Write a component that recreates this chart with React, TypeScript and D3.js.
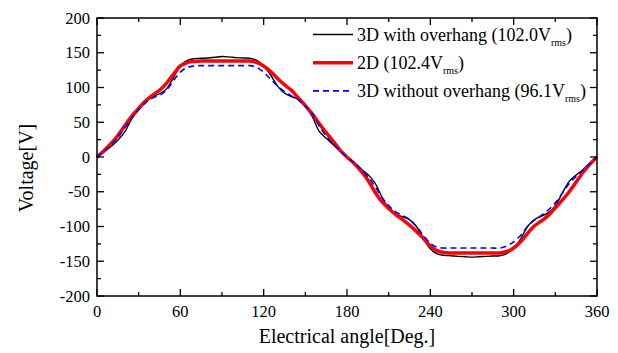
import React from "react";
import * as d3 from "d3";

const angles: number[] = d3.range(0, 361, 5);

const withOverhang: number[] = [
  0, 7, 15, 24, 36, 55, 68, 80, 87, 91, 98, 114, 131, 139, 141.5, 142, 142.5, 143.5, 144.5,
  144, 143, 142.5, 142, 139, 131, 118, 102, 92, 87, 83, 73, 58, 37, 27, 18, 8, 0,
  -8, -17, -25, -37, -57, -74, -82, -86, -90, -100, -118, -132, -139.5, -141.5, -142, -143, -143.5, -144,
  -143.5, -143, -142.5, -142, -139, -131, -118, -100, -90, -85, -80, -70, -52, -35, -26, -18, -9, 0,
];

const twoD: number[] = [
  0, 9, 19, 31, 45, 59, 70, 81, 89, 96, 106, 119, 131, 136, 137.5, 138, 138, 138, 138,
  138, 138, 138, 138, 136, 131, 123, 113, 104, 96, 85, 74, 62, 48, 35, 23, 10, 0,
  -9, -20, -33, -50, -64, -74, -83, -90, -98, -107, -117, -128, -135, -137.5, -138, -138, -138, -138,
  -138, -138, -138, -138, -136, -131, -122, -110, -99, -92, -84, -73, -62, -50, -36, -22, -10, 0,
];

const withoutOverhang: number[] = [
  0, 8, 17, 28, 42, 56, 68, 78, 85, 89, 96, 110, 122, 129, 131, 131.5, 131.5, 131.5, 131.5,
  131.5, 131.5, 131.5, 131.5, 129, 122, 112, 102, 94, 88, 82, 73, 62, 45, 30, 19, 9, 0,
  -8, -17, -28, -42, -58, -70, -79, -84, -90, -100, -113, -124, -130, -131, -131, -131, -131, -131,
  -131, -131, -131, -131, -128, -122, -113, -100, -91, -84, -76, -66, -52, -38, -28, -19, -9, 0,
];

const xTicks: number[] = [0, 60, 120, 180, 240, 300, 360];
const xMinor: number[] = [30, 90, 150, 210, 270, 330];
const yTicks: number[] = [-200, -150, -100, -50, 0, 50, 100, 150, 200];
const yMinor: number[] = [-175, -125, -75, -25, 25, 75, 125, 175];

const legendItems = [
  { name: "3D with overhang (102.0V", sub: "rms", tail: ")", color: "#000", width: 1.4, dash: "" },
  { name: "2D (102.4V", sub: "rms", tail: ")", color: "#ff0000", width: 3.5, dash: "" },
  { name: "3D without overhang (96.1V", sub: "rms", tail: ")", color: "#0000ff", width: 1.6, dash: "6,4" },
];

const W = 618;
const H = 353;
const L = 97, R = 597, T = 18, B = 296;
const FONT = "Liberation Serif";

export default function App() {
  const x = d3.scaleLinear().domain([0, 360]).range([L, R]);
  const y = d3.scaleLinear().domain([-200, 200]).range([B, T]);
  const line = d3
    .line<number>()
    .x((_, i) => x(angles[i]))
    .y((d) => y(d))
    .curve(d3.curveCatmullRom.alpha(0.5));

  const series = [
    { data: withOverhang, ...legendItems[0] },
    { data: twoD, ...legendItems[1] },
    { data: withoutOverhang, ...legendItems[2] },
  ];

  const major = 7, minor = 4;
  const ts = { fontFamily: FONT };

  return (
    <svg width={W} height={H} style={{ position: "absolute", left: 0, top: 0, background: "#fff", fontFamily: FONT }}>
      <rect x={0} y={0} width={W} height={H} fill="#fff" />
      {series.map((s, i) => (
        <path key={i} d={line(s.data) || ""} fill="none" stroke={s.color} strokeWidth={s.width}
          strokeDasharray={s.dash || undefined} strokeLinejoin="round" />
      ))}
      <rect x={L} y={T} width={R - L} height={B - T} fill="none" stroke="#000" strokeWidth={1.5} />
      {xTicks.map((t) => (
        <g key={"xt" + t}>
          <line x1={x(t)} x2={x(t)} y1={B} y2={B - major} stroke="#000" strokeWidth={1.3} />
          <line x1={x(t)} x2={x(t)} y1={T} y2={T + major} stroke="#000" strokeWidth={1.3} />
          <text x={x(t)} y={B + 21} textAnchor="middle" style={ts} fontSize={16.5}>{t}</text>
        </g>
      ))}
      {xMinor.map((t) => (
        <g key={"xm" + t}>
          <line x1={x(t)} x2={x(t)} y1={B} y2={B - minor} stroke="#000" strokeWidth={1.3} />
          <line x1={x(t)} x2={x(t)} y1={T} y2={T + minor} stroke="#000" strokeWidth={1.3} />
        </g>
      ))}
      {yTicks.map((t) => (
        <g key={"yt" + t}>
          <line x1={L} x2={L + major} y1={y(t)} y2={y(t)} stroke="#000" strokeWidth={1.3} />
          <line x1={R} x2={R - major} y1={y(t)} y2={y(t)} stroke="#000" strokeWidth={1.3} />
          <text x={L - 7} y={y(t) + 5.5} textAnchor="end" style={ts} fontSize={16.5}>{t}</text>
        </g>
      ))}
      {yMinor.map((t) => (
        <g key={"ym" + t}>
          <line x1={L} x2={L + minor} y1={y(t)} y2={y(t)} stroke="#000" strokeWidth={1.3} />
          <line x1={R} x2={R - minor} y1={y(t)} y2={y(t)} stroke="#000" strokeWidth={1.3} />
        </g>
      ))}
      <text x={(L + R) / 2} y={343} textAnchor="middle" style={ts} fontSize={20}>Electrical angle[Deg.]</text>
      <text transform={`translate(33,168) rotate(-90)`} textAnchor="middle" style={ts} fontSize={20}>Voltage[V]</text>
      {legendItems.map((it, i) => {
        const ly = 34.5 + i * 28.2;
        return (
          <g key={"lg" + i}>
            <line x1={313} x2={353} y1={ly} y2={ly} stroke={it.color} strokeWidth={it.width}
              strokeDasharray={it.dash || undefined} />
            <text x={357} y={ly + 6} style={ts} fontSize={18}>
              {it.name}
              <tspan fontSize={10} dy={5}>{it.sub}</tspan>
              <tspan fontSize={18} dy={-5}>{it.tail}</tspan>
            </text>
          </g>
        );
      })}
    </svg>
  );
}
